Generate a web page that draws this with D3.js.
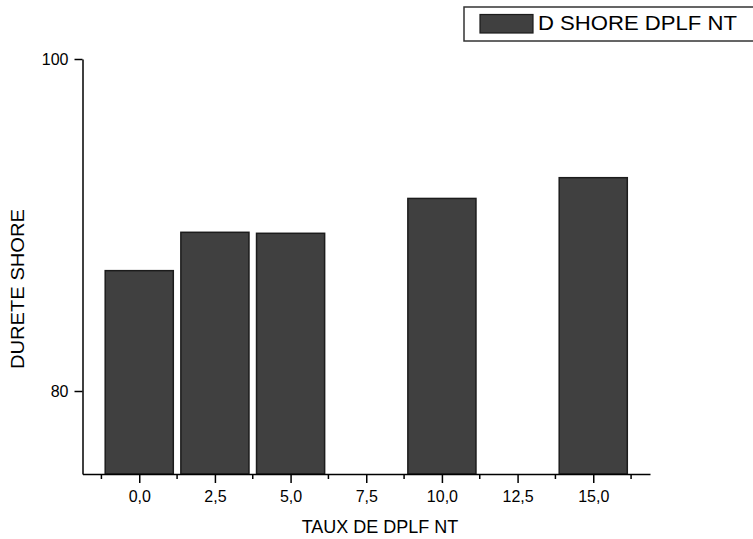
<!DOCTYPE html>
<html>
<head>
<meta charset="utf-8">
<script src="https://cdn.jsdelivr.net/npm/d3@7"></script>
<style>
  html, body { margin: 0; padding: 0; background: #fff; }
  svg { display: block; font-family: "Liberation Sans", Arial, sans-serif; }
</style>
</head>
<body>
<svg id="chart" width="753" height="539"></svg>
<script>
// Shore hardness by DPLF NT content
const categories = [0, 2.5, 5, 10, 15];
const hardness = [87.25, 89.56, 89.5, 91.6, 92.85];
const xTickValues = [0, 2.5, 5, 7.5, 10, 12.5, 15];
const xTickLabels = ["0,0", "2,5", "5,0", "7,5", "10,0", "12,5", "15,0"];
const xMinorTicks = [-1.25, 1.25, 3.75, 6.25, 8.75, 11.25, 13.75, 16.25];
const yTickValues = [80, 100];
const seriesName = "D SHORE DPLF NT";
const xTitle = "TAUX DE DPLF NT";
const yTitle = "DURETE SHORE";

const svg = d3.select("#chart");
const barFill = "#404040";
const barStroke = "#1c1c1c";

const x = d3.scaleLinear().domain([-1.875, 16.875]).range([82.5, 650]);
const y = d3.scaleLinear().domain([75, 100]).range([474, 59]);
const barWidth = 2.25;

// bars
svg.append("g").selectAll("rect")
  .data(categories.map((c, i) => ({ c, v: hardness[i] })))
  .join("rect")
  .attr("x", d => x(d.c - barWidth / 2))
  .attr("width", d => x(d.c + barWidth / 2) - x(d.c - barWidth / 2))
  .attr("y", d => y(d.v))
  .attr("height", d => y(75) - y(d.v))
  .attr("fill", barFill)
  .attr("stroke", barStroke)
  .attr("stroke-width", 1.5);

// x axis with major labelled ticks
const xAxis = d3.axisBottom(x)
  .tickValues(xTickValues)
  .tickFormat((d, i) => xTickLabels[i])
  .tickSize(9)
  .tickPadding(8)
  .tickSizeOuter(0);
const gx = svg.append("g").attr("transform", `translate(0,${y(75)})`).call(xAxis);
gx.select(".domain").attr("stroke", "#000").attr("stroke-width", 1.5);
gx.selectAll(".tick line").attr("stroke", "#000").attr("stroke-width", 1.5);
gx.selectAll(".tick text").attr("font-size", 16).attr("font-family", "Liberation Sans, Arial, sans-serif").attr("fill", "#000");

// x minor ticks
svg.append("g").selectAll("line")
  .data(xMinorTicks)
  .join("line")
  .attr("x1", d => x(d)).attr("x2", d => x(d))
  .attr("y1", y(75)).attr("y2", y(75) + 5)
  .attr("stroke", "#000").attr("stroke-width", 1.5);

// y axis
const yAxis = d3.axisLeft(y)
  .tickValues(yTickValues)
  .tickSize(8)
  .tickPadding(6)
  .tickSizeOuter(0);
const gy = svg.append("g").attr("transform", `translate(${x(-1.875)},0)`).call(yAxis);
gy.select(".domain").attr("stroke", "#000").attr("stroke-width", 1.5);
gy.selectAll(".tick line").attr("stroke", "#000").attr("stroke-width", 1.5);
gy.selectAll(".tick text").attr("font-size", 16).attr("font-family", "Liberation Sans, Arial, sans-serif").attr("fill", "#000");

// axis titles
svg.append("text")
  .attr("x", 380).attr("y", 533)
  .attr("text-anchor", "middle")
  .attr("font-size", 18)
  .text(xTitle);

svg.append("text")
  .attr("transform", `translate(23.5,289) rotate(-90)`)
  .attr("text-anchor", "middle")
  .attr("font-size", 18.5)
  .attr("textLength", 160)
  .attr("lengthAdjust", "spacingAndGlyphs")
  .text(yTitle);

// legend
const legend = svg.append("g");
legend.append("rect")
  .attr("x", 464).attr("y", 7)
  .attr("width", 300).attr("height", 34)
  .attr("fill", "#fff")
  .attr("stroke", "#333").attr("stroke-width", 1.5);
legend.append("rect")
  .attr("x", 480).attr("y", 14.5)
  .attr("width", 53).attr("height", 18.5)
  .attr("fill", barFill)
  .attr("stroke", barStroke).attr("stroke-width", 1.2);
legend.append("text")
  .attr("x", 538).attr("y", 30)
  .attr("font-size", 21)
  .attr("textLength", 199)
  .attr("lengthAdjust", "spacingAndGlyphs")
  .text(seriesName);
</script>
</body>
</html>
